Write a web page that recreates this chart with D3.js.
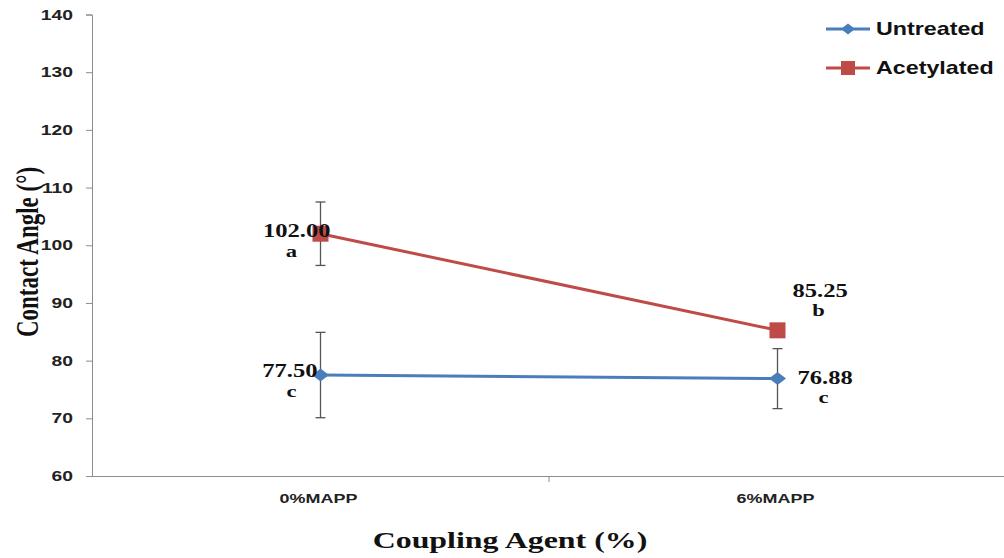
<!DOCTYPE html>
<html><head><meta charset="utf-8">
<script src="https://cdn.jsdelivr.net/npm/d3@7"></script>
<style>body{margin:0;background:#fff}</style>
</head><body>
<svg id="c" width="1004" height="558"></svg>
<script>
const categories = ["0%MAPP", "6%MAPP"];
const seriesNames = ["Untreated", "Acetylated"];
const untreated = [77.50, 76.88];
const acetylated = [102.00, 85.25];
const untreatedErr = [7.4, 5.2];
const acetylatedErr = [5.5, 0];
const untreatedLetters = ["c", "c"];
const acetylatedLetters = ["a", "b"];
const yTicks = [60, 70, 80, 90, 100, 110, 120, 130, 140];

const SX = 1.33; // horizontal stretch of text in reference
const sans = "Liberation Sans, Arial, sans-serif";
const serif = "Liberation Serif, Times New Roman, serif";

const svg = d3.select("#c");
const x = d3.scaleBand().domain(categories).range([92, 1006]);
const y = d3.scaleLinear().domain([60, 140]).range([476, 14.5]);

function stext(X, Y, str, opts) {
  const g = svg.append("g").attr("transform", `translate(${X},${Y}) scale(${SX},1)${opts.rotate ? " rotate(" + opts.rotate + ")" : ""}`);
  return g.append("text").attr("x", 0).attr("y", 0).attr("text-anchor", opts.anchor || "start")
    .attr("font-family", opts.family).attr("font-weight", "bold").attr("font-size", opts.size)
    .attr("fill", opts.fill || "#111").text(str);
}

// axes
const yAxis = svg.append("g").attr("transform", "translate(92,0)")
  .call(d3.axisLeft(y).tickValues(yTicks).tickSize(6).tickFormat(""));
yAxis.select(".domain").attr("stroke", "#8c8c8c");
yAxis.selectAll(".tick line").attr("stroke", "#8c8c8c");
yTicks.forEach(t => stext(73, y(t) + 5, String(t), {family: sans, size: 14.5, anchor: "end", fill: "#222"}));

const xAxis = svg.append("g").attr("transform", "translate(0,476)")
  .call(d3.axisBottom(x).tickSize(0).tickFormat(""));
xAxis.select(".domain").attr("stroke", "#8c8c8c");
svg.append("g").selectAll("line").data([categories[1]]).join("line")
  .attr("x1", d => x(d)).attr("x2", d => x(d))
  .attr("y1", 476).attr("y2", 482).attr("stroke", "#8c8c8c");
const cx = d => x(d) + x.bandwidth() / 2;
categories.forEach(c => stext(cx(c) - 2, 503, c, {family: sans, size: 13.5, anchor: "middle", fill: "#222"}));

// titles
stext(38, 252, "Contact Angle (°)", {family: serif, size: 23, anchor: "middle", rotate: -90});
stext(510, 548, "Coupling Agent (%)", {family: serif, size: 24, anchor: "middle"});

const series = [
  {name: seriesNames[0], vals: untreated, err: untreatedErr, color: "#4a7ebb", shape: "diamond", letters: untreatedLetters},
  {name: seriesNames[1], vals: acetylated, err: acetylatedErr, color: "#be4b48", shape: "square", letters: acetylatedLetters}
];

// error bars
series.forEach(s => {
  const g = svg.append("g");
  categories.forEach((c, i) => {
    if (!s.err[i]) return;
    const X = cx(c), y1 = y(s.vals[i] + s.err[i]), y2 = y(s.vals[i] - s.err[i]);
    g.append("line").attr("x1", X).attr("x2", X).attr("y1", y1).attr("y2", y2).attr("stroke", "#555").attr("stroke-width", 1.3);
    [y1, y2].forEach(yy => g.append("line").attr("x1", X - 5).attr("x2", X + 5).attr("y1", yy).attr("y2", yy).attr("stroke", "#555").attr("stroke-width", 1.3));
  });
});

const diamondPath = (w, h) => `M${-w/2},0L0,${-h/2}L${w/2},0L0,${h/2}Z`;
const squarePath = (a) => `M${-a/2},${-a/2}h${a}v${a}h${-a}Z`;
const line = d3.line().x((d, i) => cx(categories[i])).y(d => y(d));
series.forEach(s => {
  svg.append("path").datum(s.vals).attr("d", line).attr("fill", "none").attr("stroke", s.color).attr("stroke-width", 3);
  svg.append("g").selectAll("path").data(s.vals).join("path")
    .attr("transform", (d, i) => `translate(${cx(categories[i])},${y(d)})`)
    .attr("d", s.shape === "diamond" ? diamondPath(17, 13) : squarePath(16))
    .attr("fill", s.color);
});

// data labels
const labelPos = [
  {s: 0, i: 0, dx: -3, dy: 2, anchor: "end", lx: -29, ldy: 20},
  {s: 0, i: 1, dx: 20, dy: 5, anchor: "start", lx: 46, ldy: 19},
  {s: 1, i: 0, dx: 10, dy: 3, anchor: "end", lx: -29, ldy: 20},
  {s: 1, i: 1, dx: 15, dy: -33, anchor: "start", lx: 41, ldy: 19}
];
labelPos.forEach(p => {
  const s = series[p.s], c = categories[p.i], v = s.vals[p.i];
  const X = cx(c) + p.dx, Y = y(v) + p.dy;
  stext(X, Y, v.toFixed(2), {family: serif, size: 18.5, anchor: p.anchor});
  stext(cx(c) + p.lx, Y + p.ldy, s.letters[p.i], {family: serif, size: 17, anchor: "middle"});
});

// legend
series.forEach((s, k) => {
  const ly = 29 + k * 39;
  svg.append("line").attr("x1", 826).attr("x2", 870).attr("y1", ly).attr("y2", ly).attr("stroke", s.color).attr("stroke-width", 3);
  svg.append("path").attr("transform", `translate(848,${ly})`)
    .attr("d", s.shape === "diamond" ? diamondPath(14, 11) : squarePath(14))
    .attr("fill", s.color);
  stext(876, ly + 6, s.name, {family: sans, size: 17.5});
});
</script>
</body></html>
